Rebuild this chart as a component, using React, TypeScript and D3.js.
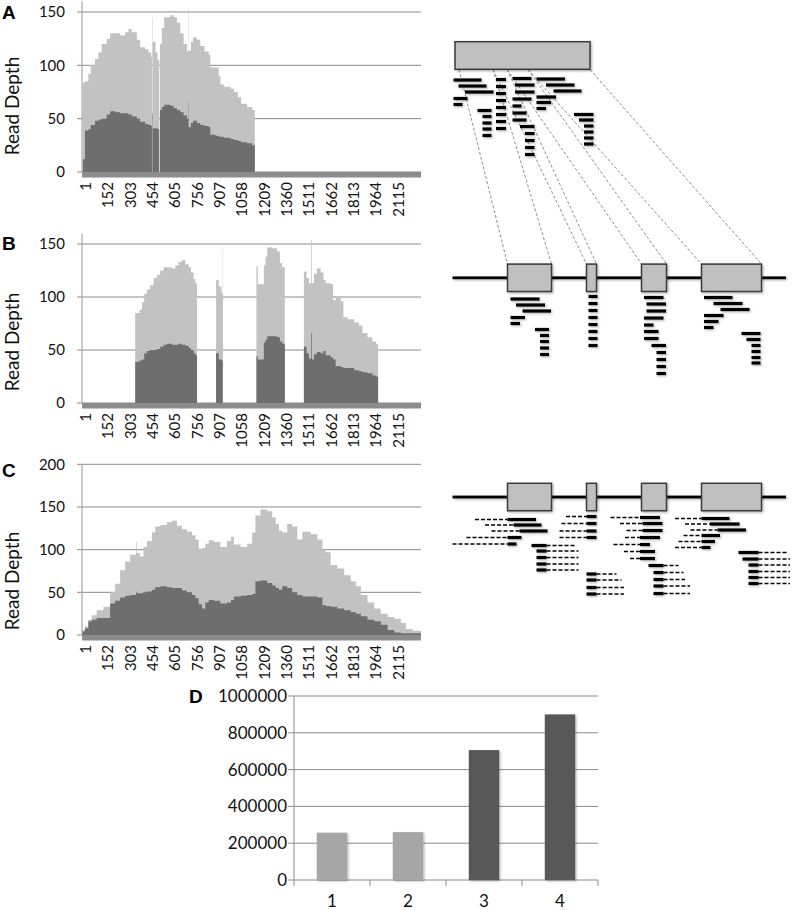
import React, { useEffect, useRef } from 'react';
import * as d3 from 'd3';

const W = 797;
const H = 910;

const positionTicks = [1, 152, 303, 454, 605, 756, 907, 1058, 1209, 1360, 1511, 1662, 1813, 1964, 2115];

// A - reads on the spliced transcript
const posA = [5, 20, 43, 59, 88, 111, 133, 167, 190, 224, 258, 292, 314, 337, 371, 393, 427, 450, 468, 473, 476, 479, 497, 511, 522, 527, 540, 556, 597, 620, 642, 665, 687, 710, 719, 721, 737, 751, 778, 800, 828, 857, 868, 902, 925, 936, 959, 1004, 1027, 1054, 1076, 1117, 1151, 1169];
const totalA = [84, 85, 92, 100, 106, 112, 120, 125, 130, 130, 128, 131, 134, 131, 124, 117, 115, 112, 108, 0, 145, 122, 112, 105, 0, 120, 135, 145, 147, 145, 140, 130, 120, 113, 153, 114, 122, 126, 124, 118, 113, 110, 98, 98, 90, 82, 80, 78, 75, 70, 64, 61, 58, 0];
const subsetA = [12, 39, 40, 44, 48, 49, 50, 54, 57, 56, 55, 55, 54, 52, 50, 47, 45, 44, 43, 0, 55, 41, 41, 40, 0, 58, 61, 63, 62, 60, 58, 56, 53, 50, 66, 42, 46, 48, 46, 44, 43, 42, 35, 34, 33, 33, 32, 31, 30, 29, 28, 27, 25, 0];

// B - reads on the genome, exons only
const posB = [0, 360, 389, 405, 421, 439, 461, 484, 506, 529, 552, 574, 608, 631, 653, 676, 699, 721, 737, 755, 767, 778, 907, 925, 943, 952, 954, 1180, 1189, 1230, 1241, 1253, 1287, 1320, 1339, 1354, 1372, 1501, 1519, 1535, 1551, 1556, 1569, 1588, 1614, 1633, 1648, 1682, 1698, 1716, 1750, 1768, 1795, 1841, 1874, 1897, 1931, 1965, 1988, 2003];
const totalB = [0, 85, 88, 95, 103, 107, 111, 118, 121, 125, 128, 128, 127, 130, 133, 135, 131, 128, 123, 117, 113, 0, 116, 110, 104, 146, 0, 129, 112, 130, 138, 147, 146, 143, 132, 128, 0, 124, 118, 113, 154, 113, 122, 127, 123, 116, 113, 112, 97, 99, 96, 81, 79, 76, 73, 66, 62, 58, 56, 0];
const subsetB = [0, 39, 40, 41, 47, 49, 50, 50, 51, 53, 55, 56, 55, 55, 56, 55, 54, 52, 50, 47, 45, 0, 47, 41, 40, 0, 0, 44, 41, 57, 60, 63, 63, 62, 58, 56, 0, 53, 47, 42, 66, 41, 46, 48, 47, 49, 45, 43, 41, 35, 34, 33, 33, 31, 30, 29, 28, 26, 25, 0];

// C - reads on the genome, introns included
const posC = [0, 20, 43, 66, 99, 145, 190, 224, 258, 292, 326, 366, 371, 393, 416, 439, 473, 495, 529, 574, 608, 642, 676, 710, 744, 767, 789, 812, 834, 857, 891, 936, 981, 1008, 1027, 1072, 1117, 1151, 1173, 1207, 1253, 1287, 1310, 1332, 1354, 1388, 1422, 1456, 1490, 1547, 1592, 1626, 1648, 1682, 1727, 1773, 1818, 1852, 1886, 1931, 1976, 2021, 2067, 2112, 2157, 2191, 2236, 2293];
const totalC = [6, 10, 18, 23, 29, 33, 50, 60, 76, 86, 94, 109, 96, 92, 103, 110, 120, 127, 129, 132, 134, 128, 124, 121, 117, 112, 101, 102, 107, 111, 109, 103, 110, 115, 106, 103, 107, 120, 140, 147, 145, 138, 130, 122, 120, 130, 127, 112, 121, 118, 112, 100, 97, 82, 78, 70, 63, 57, 47, 38, 31, 25, 21, 19, 14, 7, 5, 0];
const subsetC = [4, 8, 16, 18, 20, 20, 37, 40, 44, 46, 47, 51, 49, 49, 50, 51, 53, 56, 57, 56, 55, 55, 52, 50, 47, 43, 36, 31, 38, 41, 40, 37, 38, 41, 45, 46, 47, 48, 63, 64, 61, 58, 55, 53, 57, 55, 50, 47, 45, 45, 44, 35, 34, 33, 31, 29, 27, 25, 22, 18, 16, 12, 6, 3, 2, 2, 2, 0];

// D
const barCats = ['1', '2', '3', '4'];
const barValues = [257000, 260000, 706000, 900000];
const barTicks = [0, 200000, 400000, 600000, 800000, 1000000];

// schematic, in diagram units (x from the diagram's left, y down the page)
const transcriptBox = [5, 140];
const exons = [[57.5, 101.5], [136.5, 146.5], [191.5, 216.5], [251.5, 311.5]];
const intronLine = [2.5, 336];
const junctionTops = [9, 43, 43, 57, 57, 78, 78, 140];
const junctionBottoms = [57.5, 101.5, 136.5, 146.5, 191.5, 216.5, 251.5, 311.5];

const readsA = [
  [3.5, 31.5, 80], [8.5, 36.5, 86], [15, 43.5, 92], [3.5, 17.5, 98.5], [3.5, 12.5, 104.5],
  [27.5, 41.5, 110.5], [32.5, 41.5, 116.5], [32.5, 41.5, 123], [32.5, 41.5, 129], [32.5, 41.5, 135.5],
  [46, 56, 79.5], [46, 56, 86.5], [46, 56, 93.5], [46, 56, 100.5], [46, 56, 107.5], [46, 56, 114.5], [46, 56, 121.5], [46, 56, 128.5],
  [62.5, 81.5, 78.5], [65, 84.5, 85], [65, 84.5, 92], [62.5, 81.5, 99], [62.5, 71.5, 106], [62.5, 76.5, 113], [62.5, 76.5, 120],
  [70, 84.5, 126.5], [75, 84.5, 133.5], [75, 84.5, 140.5], [75, 84.5, 147.5], [75, 84.5, 154.5],
  [86.5, 115, 79], [96, 124.5, 85], [103.5, 131.5, 91], [86.5, 106, 97], [86.5, 101, 102.5], [86.5, 96, 108.5],
  [124, 143.5, 114.5], [129, 143.5, 120], [134, 143.5, 126], [134, 143.5, 132], [134, 143.5, 138], [134, 143.5, 144],
];

const readsB = [
  [60.5, 89.5, 299], [66, 95, 305], [72.5, 101, 311], [60.5, 75, 317.5], [60.5, 70, 323.5],
  [85, 99, 329.5], [90, 99, 335.5], [90, 99, 341.5], [90, 99, 348], [90, 99, 354.5],
  [138.5, 147.5, 296.5], [138.5, 147.5, 303.5], [138.5, 147.5, 310.5], [138.5, 147.5, 317.5],
  [138.5, 147.5, 324.5], [138.5, 147.5, 331.5], [138.5, 147.5, 338.5], [138.5, 147.5, 345.5],
  [194, 213.5, 297.5], [196.5, 216, 304], [196.5, 216, 311], [194, 213.5, 318], [194, 203.5, 325],
  [194, 208.5, 331.5], [194, 208.5, 338.5], [201.5, 216, 345.5], [206.5, 216, 352.5], [206.5, 216, 359.5],
  [206.5, 216, 366.5], [206.5, 216, 373.5],
  [254, 282.5, 297.5], [263.5, 292.5, 303.5], [270.5, 299.5, 309.5], [254, 273.5, 315.5], [254, 268.5, 321.5],
  [254, 263.5, 327.5], [291.5, 310.5, 333.5], [296.5, 310.5, 339.5], [301.5, 310.5, 345.5], [301.5, 310.5, 351.5],
  [301.5, 310.5, 357.5], [301.5, 310.5, 363],
];

// solid start, solid end, dashed start, dashed end, y
const readsC = [
  [57.5, 86, 25, 57.5, 519.5], [63.5, 91.5, 35, 63.5, 525], [69.5, 97.5, 41.5, 69.5, 531],
  [57.5, 71.5, 16.5, 57.5, 537.5], [57.5, 66.5, 2.5, 57.5, 544],
  [81.5, 96.5, 96.5, 125, 545.5], [86.5, 96.5, 96.5, 128.5, 551], [86.5, 96.5, 96.5, 128.5, 557.5],
  [86.5, 96.5, 96.5, 128.5, 564], [86.5, 96.5, 96.5, 128.5, 570],
  [136.5, 146.5, 116, 136.5, 516.5], [136.5, 146.5, 111.5, 136.5, 523.5],
  [136.5, 146.5, 109.5, 136.5, 531], [136.5, 146.5, 109.5, 136.5, 537.5],
  [136.5, 146.5, 146.5, 166.5, 574], [136.5, 146.5, 146.5, 171.5, 580],
  [136.5, 146.5, 146.5, 174, 587.5], [136.5, 146.5, 146.5, 174, 594],
  [190, 210, 160.5, 190, 517.5], [192.5, 212.5, 170, 192.5, 523.5], [192.5, 212.5, 176.5, 192.5, 530.5],
  [190, 210, 175, 190, 537.5], [190, 200, 163.5, 190, 544.5], [190, 205, 174, 190, 551.5], [190, 205, 180, 190, 558.5],
  [198.5, 213.5, 213.5, 228.5, 565.5], [203.5, 213.5, 213.5, 233.5, 572.5], [203.5, 213.5, 213.5, 235, 579.5],
  [203.5, 213.5, 213.5, 240, 586], [203.5, 213.5, 213.5, 240, 593.5],
  [251.5, 279.5, 225, 251.5, 518.5], [260, 289.5, 235, 260, 524], [267.5, 296, 240.5, 267.5, 530],
  [251.5, 270, 233.5, 251.5, 535.5], [251.5, 265, 228.5, 251.5, 541.5], [251.5, 260.5, 225, 251.5, 547.5],
  [288.5, 308.5, 308.5, 336.5, 552.5], [292.5, 308.5, 308.5, 340, 559], [298.5, 308.5, 308.5, 340, 565],
  [298.5, 308.5, 308.5, 340, 571.5], [298.5, 308.5, 308.5, 340, 577.5], [298.5, 308.5, 308.5, 340, 583.5],
];

const FONT = "Lato, 'Open Sans', sans-serif";
const BOLD = "'Liberation Sans', Arial, sans-serif";
const LIGHT = '#c2c2c2';
const DARK = '#6e6e6e';
const GRID = '#8a8a8a';

const x = d3.scaleLinear().domain([0, 2293]).range([82, 421]);

function coverage(svg, cfg) {
  const g = svg.append('g');
  const y = d3.scaleLinear().domain([0, cfg.yMax]).range([cfg.zeroY, cfg.topY]);
  const ticks = d3.range(0, cfg.gridMax + 1, 50);

  g.append('g').selectAll('line').data(ticks).join('line')
    .attr('x1', 77).attr('x2', 421)
    .attr('y1', (d) => y(d)).attr('y2', (d) => y(d))
    .attr('stroke', GRID).attr('stroke-width', 1);

  const rows = cfg.pos.map((p, i) => ({ p, total: cfg.total[i], sub: cfg.sub[i] }));
  const area = (key) => d3.area()
    .curve(d3.curveStepAfter)
    .x((d) => x(d.p))
    .y0(y(0))
    .y1((d) => y(d[key]));

  g.append('path').datum(rows).attr('d', area('total')).attr('fill', LIGHT);
  g.append('path').datum(rows).attr('d', area('sub')).attr('fill', DARK);

  g.append('rect').attr('x', 82).attr('y', cfg.zeroY).attr('width', 339).attr('height', 5.5).attr('fill', '#8c8c8c');
  g.append('line').attr('x1', 82).attr('x2', 82).attr('y1', cfg.topY).attr('y2', cfg.zeroY)
    .attr('stroke', '#a8a8a8').attr('stroke-width', 1.2);

  g.append('g').selectAll('text').data(ticks).join('text')
    .attr('x', 65).attr('y', (d) => y(d)).attr('dy', '0.35em')
    .attr('text-anchor', 'end')
    .style('font-family', FONT).style('font-size', '15px').attr('fill', '#111')
    .text((d) => d);

  // position labels, read bottom to top
  const ly = cfg.zeroY + 10;
  g.append('g').selectAll('text').data(positionTicks).join('text')
    .attr('x', (d) => x(d) + 9)
    .attr('y', ly)
    .attr('transform', (d) => `rotate(-90 ${x(d) + 9} ${ly})`)
    .attr('text-anchor', 'end')
    .style('font-family', FONT).style('font-size', '15px').attr('fill', '#111')
    .text((d) => d);

  g.append('text')
    .attr('transform', `translate(12,${cfg.titleY}) rotate(-90)`)
    .attr('text-anchor', 'middle').attr('dy', '0.35em')
    .style('font-family', FONT).style('font-size', '19px').attr('fill', '#111')
    .text('Read Depth');

  g.append('text').attr('x', 2).attr('y', cfg.letterY)
    .style('font-family', BOLD).style('font-weight', 'bold').style('font-size', '19px')
    .text(cfg.letter);
}

export default function App() {
  const ref = useRef(null);

  useEffect(() => {
    const svg = d3.select(ref.current);
    svg.selectAll('*').remove();

    const defs = svg.append('defs');
    defs.append('filter').attr('id', 'shadow')
      .attr('filterUnits', 'userSpaceOnUse').attr('x', 0).attr('y', 0).attr('width', W).attr('height', H)
      .append('feDropShadow').attr('dx', 1.2).attr('dy', 1.2).attr('stdDeviation', 0.9)
      .attr('flood-color', '#000').attr('flood-opacity', 0.3);

    coverage(svg, { pos: posA, total: totalA, sub: subsetA, yMax: 160, gridMax: 150, zeroY: 172, topY: 1.3, titleY: 106, letterY: 19, letter: 'A' });
    coverage(svg, { pos: posB, total: totalB, sub: subsetB, yMax: 160, gridMax: 150, zeroY: 403, topY: 233.4, titleY: 342, letterY: 250, letter: 'B' });
    coverage(svg, { pos: posC, total: totalC, sub: subsetC, yMax: 200, gridMax: 200, zeroY: 635, topY: 464.3, titleY: 581, letterY: 477, letter: 'C' });

    // schematic
    const sx = d3.scaleLinear().domain([0, 340]).range([450, 790]);
    const sg = svg.append('g');

    // connectors from transcript to exons
    sg.append('g').selectAll('line').data(junctionTops).join('line')
      .attr('x1', (d) => sx(d)).attr('y1', 69.5)
      .attr('x2', (d, i) => sx(junctionBottoms[i])).attr('y2', 264)
      .attr('stroke', '#8f8f8f').attr('stroke-width', 1).attr('stroke-dasharray', '3,2');

    sg.append('rect')
      .attr('x', sx(transcriptBox[0])).attr('y', 41.7)
      .attr('width', sx(transcriptBox[1]) - sx(transcriptBox[0])).attr('height', 27.6)
      .attr('fill', '#c0c0c0').attr('stroke', '#3a3a3a').attr('stroke-width', 1.5).attr('filter', 'url(#shadow)');

    const readBar = (sel, data) => sel.selectAll('rect').data(data).join('rect')
      .attr('x', (d) => sx(d[0])).attr('width', (d) => sx(d[1]) - sx(d[0]))
      .attr('y', (d) => d[2] - 1.6).attr('height', 3.2)
      .attr('fill', '#000').attr('filter', 'url(#shadow)');

    readBar(sg.append('g'), readsA);

    const gene = (gy) => {
      const gg = sg.append('g');
      gg.append('rect').attr('x', sx(intronLine[0])).attr('width', sx(intronLine[1]) - sx(intronLine[0]))
        .attr('y', gy - 1.4).attr('height', 2.8).attr('fill', '#000').attr('filter', 'url(#shadow)');
      gg.append('g').selectAll('rect').data(exons).join('rect')
        .attr('x', (d) => sx(d[0])).attr('width', (d) => sx(d[1]) - sx(d[0]))
        .attr('y', gy - 13.7).attr('height', 27.4)
        .attr('fill', '#c0c0c0').attr('stroke', '#3a3a3a').attr('stroke-width', 1.5).attr('filter', 'url(#shadow)');
    };

    gene(277.8);
    readBar(sg.append('g'), readsB);

    gene(497);
    const cg = sg.append('g');
    cg.append('g').selectAll('line').data(readsC).join('line')
      .attr('x1', (d) => sx(d[2])).attr('x2', (d) => sx(d[3]))
      .attr('y1', (d) => d[4]).attr('y2', (d) => d[4])
      .attr('stroke', '#000').attr('stroke-width', 1.6).attr('stroke-dasharray', '4,2');
    readBar(cg.append('g'), readsC.map((d) => [d[0], d[1], d[4]]));

    // D
    const yD = d3.scaleLinear().domain([0, 1000000]).range([880, 696]);
    const xD = d3.scaleBand().domain(barCats).range([294, 598]).paddingInner(0.6).paddingOuter(0.3);
    const colorD = d3.scaleOrdinal().domain(barCats).range(['#a6a6a6', '#a6a6a6', '#585858', '#585858']);
    const dg = svg.append('g');

    dg.append('g').selectAll('line').data(barTicks).join('line')
      .attr('x1', 288).attr('x2', 598)
      .attr('y1', (d) => yD(d)).attr('y2', (d) => yD(d))
      .attr('stroke', GRID).attr('stroke-width', 1);
    dg.append('line').attr('x1', 294).attr('x2', 294).attr('y1', 696).attr('y2', 880)
      .attr('stroke', '#8a8a8a');
    const bounds = [...barCats.map((c) => xD(c) - xD.step() * 0.3), 598];
    dg.append('g').selectAll('line').data(bounds).join('line')
      .attr('x1', (d) => d).attr('x2', (d) => d).attr('y1', 880).attr('y2', 886)
      .attr('stroke', '#8a8a8a');

    dg.append('g').selectAll('rect').data(barValues).join('rect')
      .attr('x', (d, i) => xD(barCats[i])).attr('width', xD.bandwidth())
      .attr('y', (d) => yD(d)).attr('height', (d) => yD(0) - yD(d))
      .attr('fill', (d, i) => colorD(barCats[i])).attr('filter', 'url(#shadow)');

    dg.append('g').selectAll('text').data(barTicks).join('text')
      .attr('x', 287).attr('y', (d) => yD(d)).attr('dy', '0.35em')
      .attr('text-anchor', 'end')
      .style('font-family', FONT).style('font-size', '17px').attr('fill', '#111')
      .text((d) => d);
    dg.append('g').selectAll('text').data(barCats).join('text')
      .attr('x', (d) => xD(d) + xD.bandwidth() / 2).attr('y', 907)
      .attr('text-anchor', 'middle')
      .style('font-family', FONT).style('font-size', '17px').attr('fill', '#111')
      .text((d) => d);
    dg.append('text').attr('x', 189).attr('y', 703)
      .style('font-family', BOLD).style('font-weight', 'bold').style('font-size', '19px')
      .text('D');
  }, []);

  return <svg ref={ref} width={W} height={H} style={{ position: 'absolute', left: 0, top: 0, background: '#fff' }} />;
}
